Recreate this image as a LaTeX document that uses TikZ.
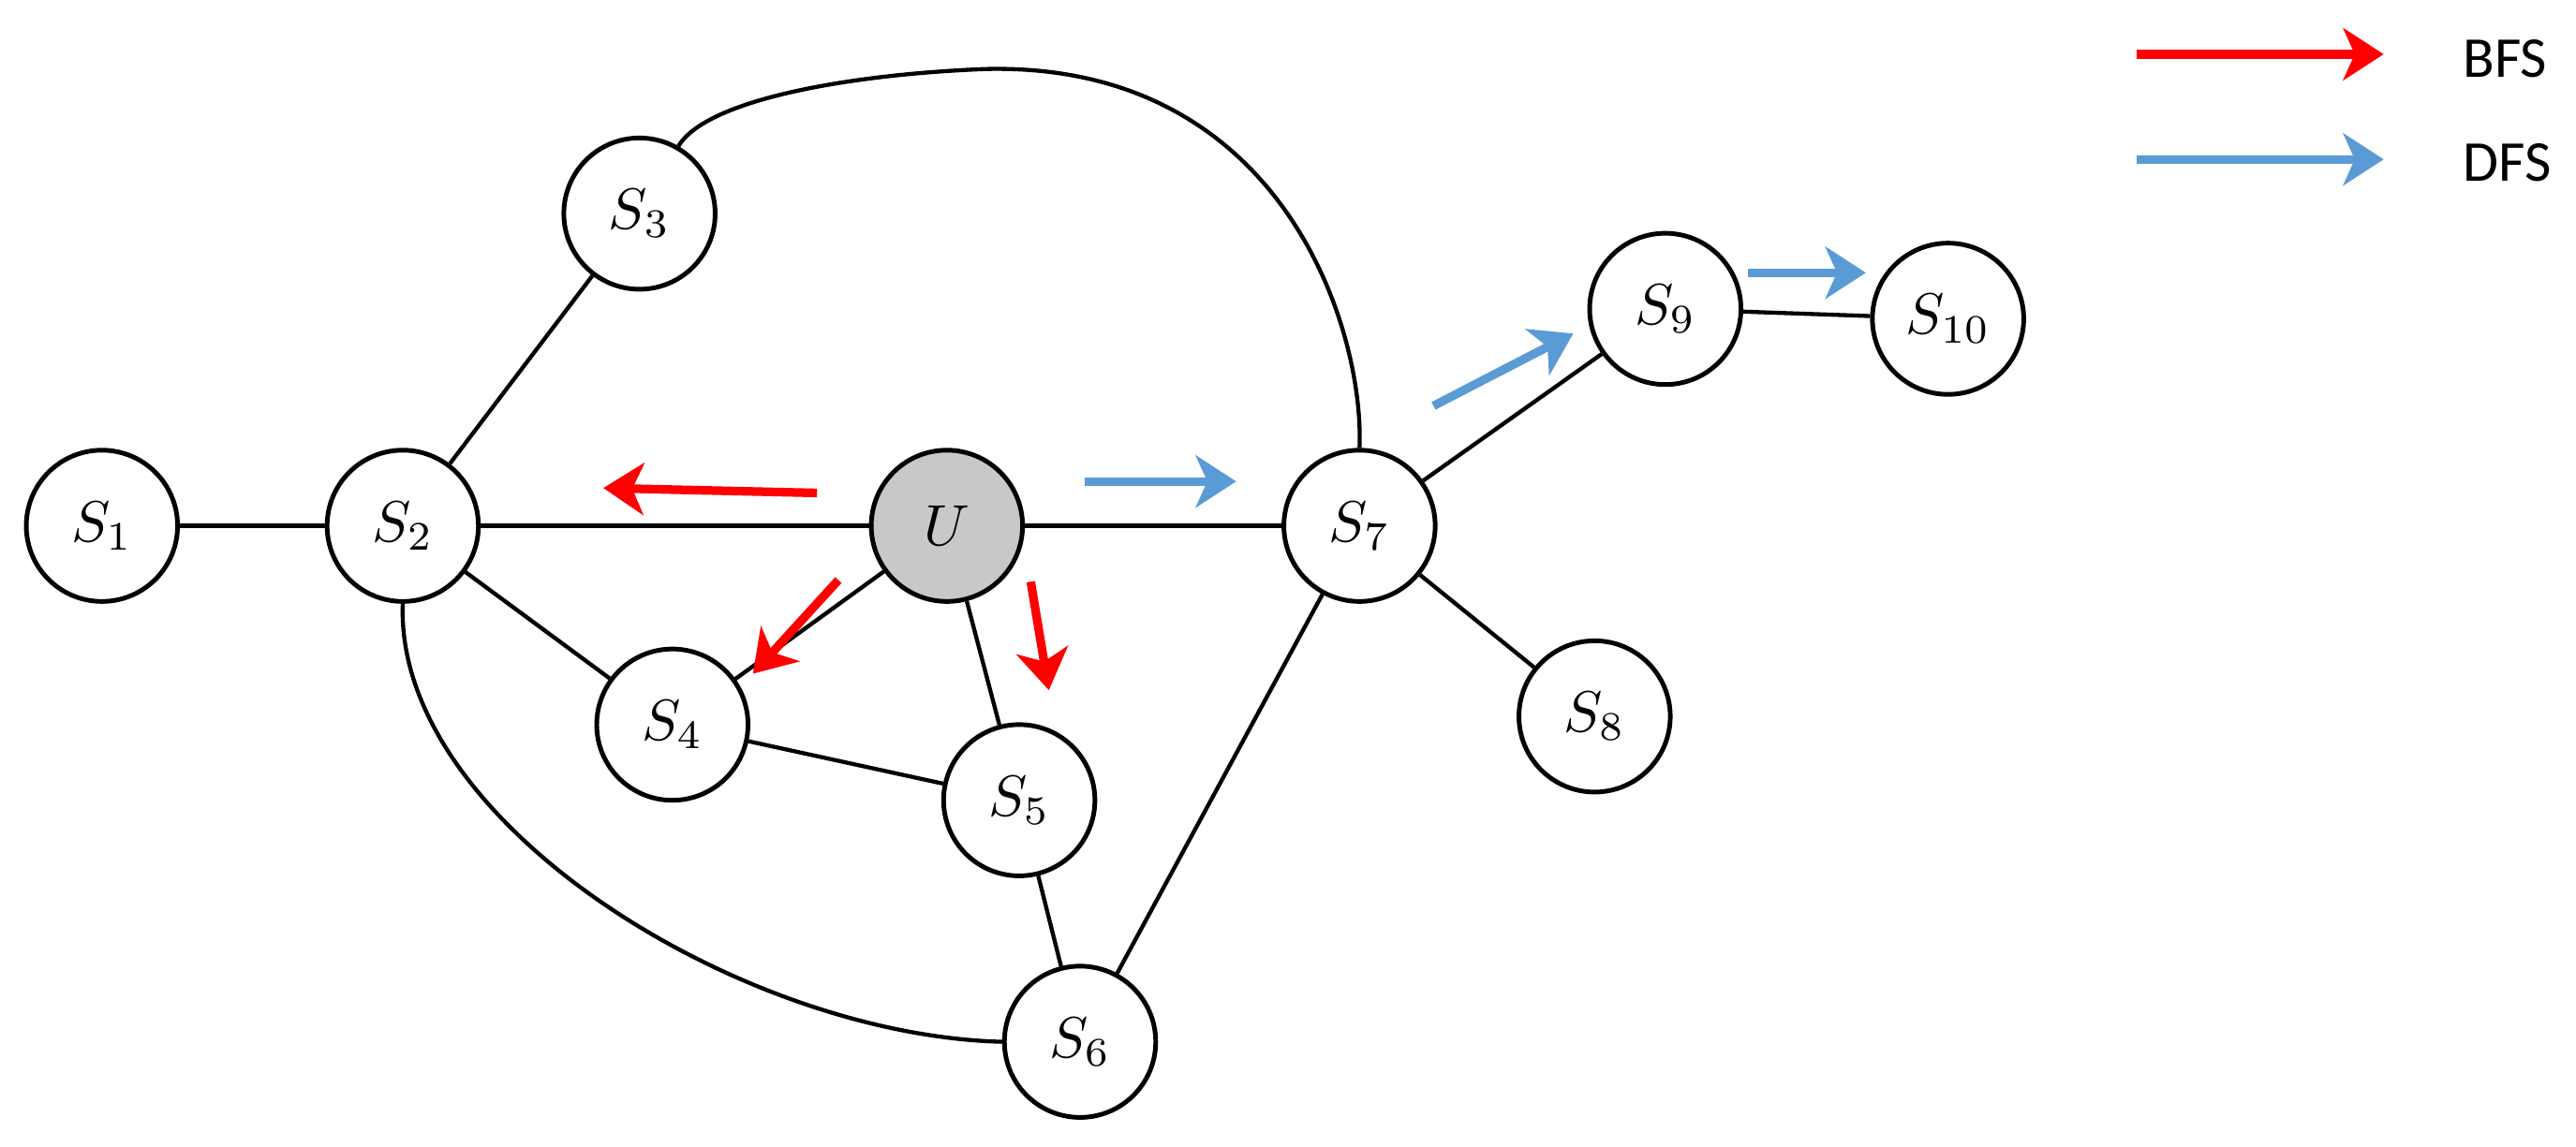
\documentclass[tikz,border=0pt]{standalone}
\usepackage{fontspec}
\setmainfont{Carlito}
\usetikzlibrary{arrows.meta}
\begin{document}
\begin{tikzpicture}[x=0.01cm,y=-0.01cm,
  v/.style={circle,draw,line width=0.8pt,minimum size=0.92cm,inner sep=0pt,fill=white},
  e/.style={line width=0.7pt},
  bfs/.style={draw=red,line width=1.5pt,-{Stealth[length=7pt,width=9pt,inset=2pt]}},
  dfs/.style={draw={rgb,255:red,91;green,155;blue,213},line width=1.5pt,-{Stealth[length=7pt,width=9pt,inset=2pt]}}]
\useasboundingbox (0,0) rectangle (1567,698);
\node[v] (s1) at (62,320) {$S_1$};
\node[v] (s2) at (245,320) {$S_2$};
\node[v] (s3) at (389,130) {$S_3$};
\node[v,fill={rgb,255:red,200;green,200;blue,200}] (u) at (576,320) {$U$};
\node[v] (s4) at (409,441) {$S_4$};
\node[v] (s5) at (620,487) {$S_5$};
\node[v] (s6) at (657,634) {$S_6$};
\node[v] (s7) at (827,320) {$S_7$};
\node[v] (s8) at (970,436) {$S_8$};
\node[v] (s9) at (1013,188) {$S_9$};
\node[v] (s10) at (1185,194) {$S_{10}$};
\draw[e] (s1)--(s2); \draw[e] (s2)--(u); \draw[e] (u)--(s7);
\draw[e] (s2)--(s3); \draw[e] (s2)--(s4); \draw[e] (u)--(s4);
\draw[e] (u)--(s5); \draw[e] (s4)--(s5); \draw[e] (s5)--(s6);
\draw[e] (s6)--(s7); \draw[e] (s7)--(s8); \draw[e] (s7)--(s9); \draw[e] (s9)--(s10);
\draw[e] (s3.60) .. controls (430,60) and (520,45) .. (600,42) .. controls (780,38) and (830,200) .. (s7.north);
\draw[e] (s2.south) .. controls (240,500) and (450,630) .. (s6.west);
\coordinate (b1) at (497,300); \coordinate (b1e) at (367,297);
\coordinate (b2) at (510,353); \coordinate (b2e) at (458,410);
\coordinate (b3) at (627,354); \coordinate (b3e) at (638,420);
\draw[bfs] (b1)--(b1e); \draw[bfs] (b2)--(b2e); \draw[bfs] (b3)--(b3e);
\coordinate (d1) at (660,293); \coordinate (d1e) at (752,293);
\coordinate (d2) at (872,247); \coordinate (d2e) at (957,203);
\coordinate (d3) at (1063,166); \coordinate (d3e) at (1135,166);
\draw[dfs] (d1)--(d1e); \draw[dfs] (d2)--(d2e); \draw[dfs] (d3)--(d3e);
\coordinate (l1) at (1300,33); \coordinate (l1e) at (1450,33);
\coordinate (l2) at (1300,97); \coordinate (l2e) at (1450,97);
\draw[bfs] (l1)--(l1e); \draw[dfs] (l2)--(l2e);
\node[anchor=west] (tb) at (1486,36) {BFS};
\node[anchor=west] (td) at (1486,99) {DFS};
\end{tikzpicture}
\end{document}
